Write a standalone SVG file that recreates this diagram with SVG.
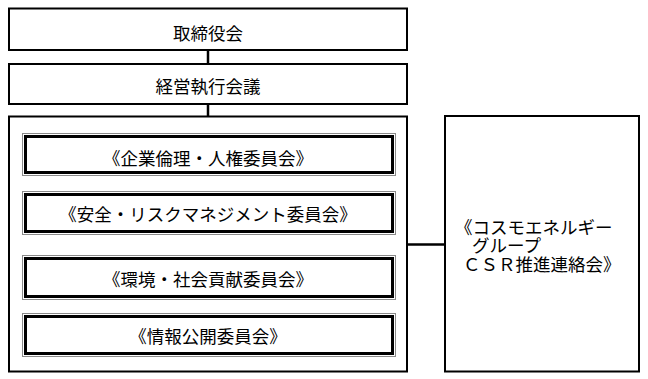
<svg xmlns="http://www.w3.org/2000/svg" width="648" height="379" viewBox="0 0 648 379">
<style>
.box{fill:#fff;stroke:#000;stroke-width:2}
.outer{fill:#fff;stroke:#8a8a8a;stroke-width:1}
.inner{fill:none;stroke:#000;stroke-width:3}
.conn{stroke:#000;stroke-width:2.5;fill:none}
text{font-family:"Noto Sans CJK JP","Noto Sans CJK SC",sans-serif;font-size:17.5px;fill:#000;dominant-baseline:central}
.c{text-anchor:middle}
</style>
<rect width="648" height="379" fill="#fff"/>
<g id="connectors">
<line class="conn" x1="208" y1="50" x2="208" y2="64"/>
<line class="conn" x1="208" y1="104" x2="208" y2="117"/>
<line class="conn" x1="407" y1="244.5" x2="445" y2="244.5"/>
</g>
<g id="board">
<rect class="box" x="9" y="8.5" width="398" height="41.5"/>
<text class="c" x="208" y="32">取締役会</text>
</g>
<g id="executive">
<rect class="box" x="9" y="64" width="398" height="40"/>
<text class="c" x="208" y="85">経営執行会議</text>
</g>
<g id="committees">
<rect class="box" x="9" y="116.5" width="398" height="255"/>
</g>
<g id="committee-ethics">
<rect class="outer" x="22.5" y="133.5" width="373" height="42"/>
<rect class="inner" x="25.5" y="136.5" width="367" height="36"/>
<text class="c" x="208" y="157">《企業倫理・人権委員会》</text>
</g>
<g id="committee-safety">
<rect class="outer" x="22.5" y="191.5" width="373" height="43"/>
<rect class="inner" x="25.5" y="194.5" width="367" height="37"/>
<text class="c" x="208" y="213.5">《安全・リスクマネジメント委員会》</text>
</g>
<g id="committee-environment">
<rect class="outer" x="22.5" y="255.5" width="373" height="44"/>
<rect class="inner" x="25.5" y="258.5" width="367" height="38"/>
<text class="c" x="208" y="278.5">《環境・社会貢献委員会》</text>
</g>
<g id="committee-disclosure">
<rect class="outer" x="22.5" y="313.5" width="373" height="43"/>
<rect class="inner" x="25.5" y="316.5" width="367" height="37"/>
<text class="c" x="208" y="335.5">《情報公開委員会》</text>
</g>
<g id="csr-liaison">
<rect class="box" x="445" y="116" width="194" height="255.5"/>
<text><tspan x="455" y="225.5">《コスモエネルギー</tspan><tspan x="472" y="244">グループ</tspan><tspan x="463" y="263">ＣＳＲ推進連絡会》</tspan></text>
</g>
</svg>
